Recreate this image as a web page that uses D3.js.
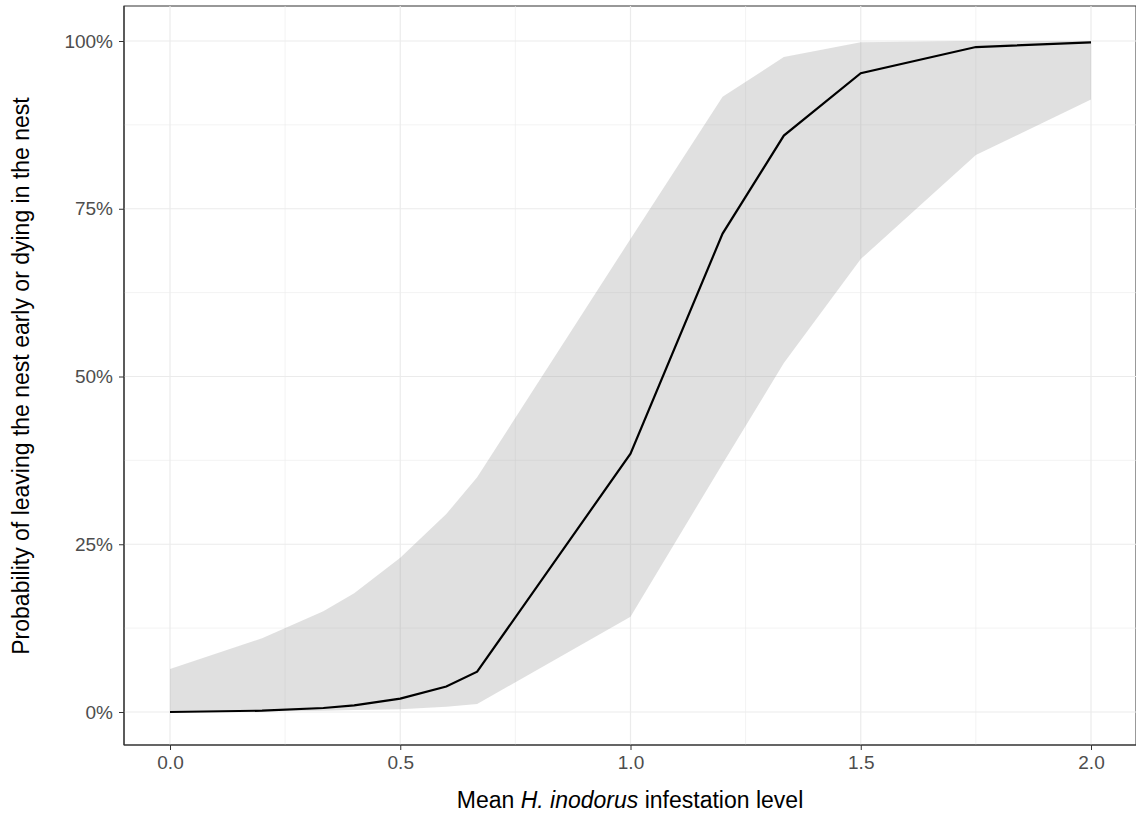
<!DOCTYPE html>
<html><head><meta charset="utf-8">
<script src="https://cdn.jsdelivr.net/npm/d3@7"></script>
<style>body{margin:0;background:#fff}text{font-family:"Liberation Sans",Arial,sans-serif}</style>
</head><body><svg id="c" width="1136" height="820"></svg>
<script>
var infestation = [0, 0.2, 0.333, 0.4, 0.5, 0.6, 0.667, 1.0, 1.2, 1.333, 1.5, 1.75, 2.0];
var fitProb = [0, 0.2, 0.6, 1.0, 2.0, 3.8, 6.0, 38.5, 71.3, 85.9, 95.2, 99.1, 99.8];
var upperCI = [6.4, 11, 15, 17.7, 23, 29.5, 35, 70.5, 91.7, 97.6, 99.8, 100, 100];
var lowerCI = [0, 0.1, 0.2, 0.3, 0.4, 0.8, 1.2, 14.2, 37, 52, 67.5, 83, 91.3];
var xTicks = [0, 0.5, 1, 1.5, 2];
var yTicks = [0, 25, 50, 75, 100];

var svg = d3.select("#c");
var L = 124, R = 1136, T = 6, B = 745;
var x = d3.scaleLinear().domain([0, 2]).range([170, 1091]);
var y = d3.scaleLinear().domain([0, 100]).range([712, 41]);

svg.append("rect").attr("x", L).attr("y", T).attr("width", R - L).attr("height", B - T)
  .attr("fill", "#fff").attr("stroke", "#333").attr("stroke-width", 1);

var minorX = [0.25, 0.75, 1.25, 1.75], minorY = [12.5, 37.5, 62.5, 87.5];
svg.selectAll(".mx").data(minorX).enter().append("line")
  .attr("x1", d => x(d)).attr("x2", d => x(d)).attr("y1", T).attr("y2", B)
  .attr("stroke", "#ebebeb").attr("stroke-width", 0.6);
svg.selectAll(".my").data(minorY).enter().append("line")
  .attr("y1", d => y(d)).attr("y2", d => y(d)).attr("x1", L).attr("x2", R)
  .attr("stroke", "#ebebeb").attr("stroke-width", 0.6);
svg.selectAll(".gx").data(xTicks).enter().append("line")
  .attr("x1", d => x(d)).attr("x2", d => x(d)).attr("y1", T).attr("y2", B)
  .attr("stroke", "#ebebeb").attr("stroke-width", 1.2);
svg.selectAll(".gy").data(yTicks).enter().append("line")
  .attr("y1", d => y(d)).attr("y2", d => y(d)).attr("x1", L).attr("x2", R)
  .attr("stroke", "#ebebeb").attr("stroke-width", 1.2);

var idx = d3.range(infestation.length);
svg.append("path").datum(idx)
  .attr("d", d3.area().x(i => x(infestation[i])).y0(i => y(lowerCI[i])).y1(i => y(upperCI[i])))
  .attr("fill", "#999").attr("fill-opacity", 0.3);
svg.append("path").datum(idx)
  .attr("d", d3.line().x(i => x(infestation[i])).y(i => y(fitProb[i])))
  .attr("fill", "none").attr("stroke", "#000").attr("stroke-width", 2.2);

var xa = svg.append("g").attr("transform", "translate(0," + B + ")")
  .call(d3.axisBottom(x).tickValues(xTicks).tickFormat(d3.format(".1f")).tickSizeOuter(0).tickSize(5).tickPadding(6));
var ya = svg.append("g").attr("transform", "translate(" + L + ",0)")
  .call(d3.axisLeft(y).tickValues(yTicks).tickFormat(d => d + "%").tickSizeOuter(0).tickSize(5).tickPadding(6));
[xa, ya].forEach(function(a) {
  a.attr("font-size", 19).attr("font-family", "Liberation Sans, Arial, sans-serif");
  a.select(".domain").attr("stroke", "#333").attr("stroke-width", 1.2);
  a.selectAll(".tick line").attr("stroke", "#333");
  a.selectAll(".tick text").attr("fill", "#4d4d4d").attr("font-size", 19);
});
xa.select(".domain").attr("d", "M" + L + ",0H" + R);
ya.select(".domain").attr("d", "M0," + T + "V" + B);

var xl = svg.append("text").attr("x", 630).attr("y", 808).attr("text-anchor", "middle").attr("font-size", 23);
xl.append("tspan").text("Mean ");
xl.append("tspan").attr("font-style", "italic").text("H. inodorus");
xl.append("tspan").text(" infestation level");
svg.append("text").attr("transform", "translate(29,376) rotate(-90)").attr("text-anchor", "middle")
  .attr("font-size", 23).text("Probability of leaving the nest early or dying in the nest");
</script></body></html>
